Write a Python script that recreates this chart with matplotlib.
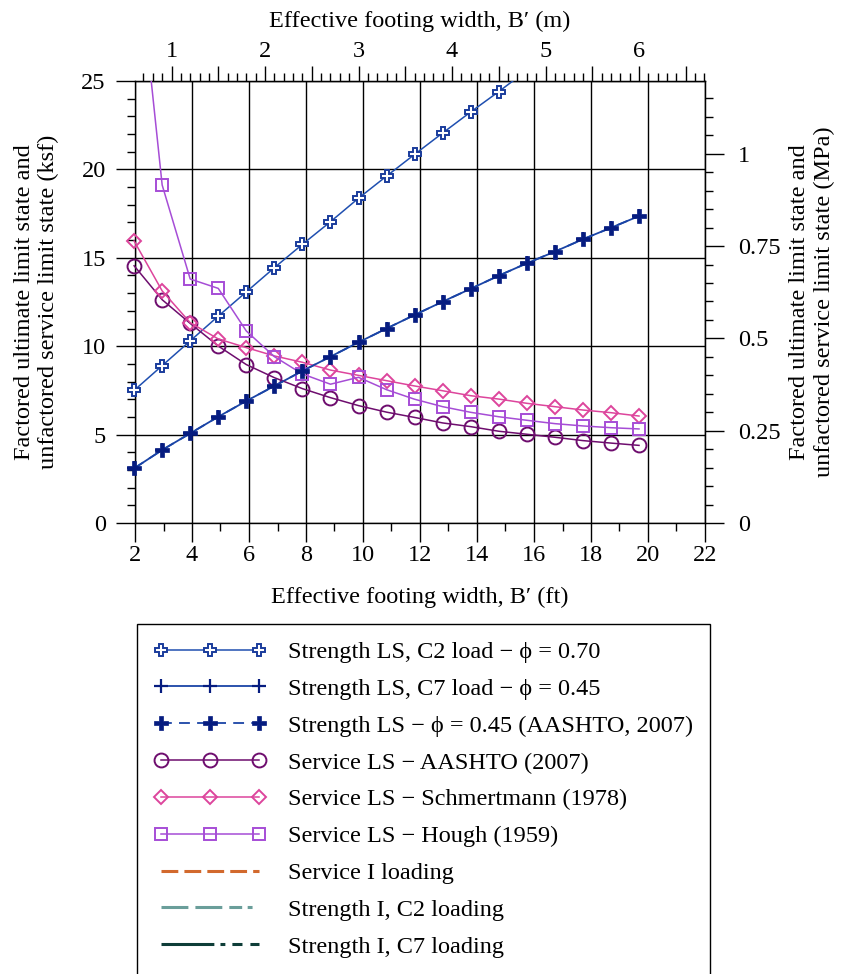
import matplotlib
matplotlib.use("Agg")
import matplotlib.pyplot as plt
from matplotlib.lines import Line2D
from matplotlib.patches import Rectangle
from matplotlib.ticker import MultipleLocator, FuncFormatter
import numpy as np

plt.rcParams['font.family'] = ['Liberation Serif', 'DejaVu Serif']
plt.rcParams['mathtext.fontset'] = 'stix'

FT_PER_M = 3.2808
MPA_PER_KSF = 0.04788

# Effective footing width (m), converted to ft for plotting
B_m = [0.6, 0.9, 1.2, 1.5, 1.8, 2.1, 2.4, 2.7, 3.0, 3.3, 3.6, 3.9, 4.2, 4.5, 4.8, 5.1, 5.4, 5.7, 6.0]

strength_c2 = [7.5, 8.9, 10.3, 11.7, 13.07, 14.44, 15.76, 17.04, 18.37, 19.62, 20.85, 22.06, 23.25, 24.4, 25.6]
strength_c7 = [3.09, 4.13, 5.07, 6.01, 6.9, 7.75, 8.6, 9.41, 10.22, 11.0, 11.77, 12.52, 13.25, 13.99, 14.69,
               15.35, 16.05, 16.7, 17.36]
strength_aashto = [3.09, 4.13, 5.07, 6.01, 6.9, 7.75, 8.6, 9.41, 10.22, 11.0, 11.77, 12.52, 13.25, 13.99, 14.69,
                   15.35, 16.05, 16.7, 17.36]
service_aashto = [14.55, 12.63, 11.29, 10.01, 8.96, 8.22, 7.6, 7.09, 6.64, 6.27, 5.97, 5.66, 5.45, 5.19, 5.02,
                  4.85, 4.66, 4.52, 4.39]
service_schmertmann = [15.95, 13.13, 11.33, 10.41, 9.92, 9.45, 9.09, 8.65, 8.35, 8.05, 7.75, 7.48, 7.2, 7.01,
                       6.77, 6.58, 6.39, 6.24, 6.05]
service_hough = [34.2, 19.12, 13.8, 13.27, 10.86, 9.41, 8.43, 7.85, 8.24, 7.54, 7.0, 6.58, 6.26, 6.01, 5.81,
                 5.62, 5.49, 5.39, 5.32]

labels = [
    "Strength LS, C2 load \u2212 \u03d5 = 0.70",
    "Strength LS, C7 load \u2212 \u03d5 = 0.45",
    "Strength LS \u2212 \u03d5 = 0.45 (AASHTO, 2007)",
    "Service LS \u2212 AASHTO (2007)",
    "Service LS \u2212 Schmertmann (1978)",
    "Service LS \u2212 Hough (1959)",
    "Service I loading",
    "Strength I, C2 loading",
    "Strength I, C7 loading",
]

B_ft = [b * FT_PER_M for b in B_m]

FS = 17.5
fig = plt.figure(figsize=(8.45, 9.74), dpi=100)
ax = fig.add_axes([135 / 845, 1 - 523 / 974, 570 / 845, 442 / 974])

c2_col = '#1f4fb0'
c2_edge = '#1a3c9c'
c7_line = '#1a44a6'
c7_mk = '#061c80'
aas_col = '#6e0d6e'
sch_col = '#dd459c'
hou_col = '#a64dd6'

h1, = ax.plot(B_ft[:len(strength_c2)], strength_c2, color=c2_col, lw=1.1, marker='P', ms=9,
              mfc='white', mec=c2_edge, mew=1.4, zorder=5, label=labels[0])
h2, = ax.plot(B_ft, strength_c7, color=c7_line, lw=1.3, marker='+', ms=10, mec=c7_mk, mew=1.6,
              zorder=5, label=labels[1])
h3, = ax.plot(B_ft, strength_aashto, color=c7_line, lw=1.3, ls=(0, (6, 4)), marker='P', ms=10,
              mfc=c7_mk, mec=c7_mk, mew=0.5, zorder=6, label=labels[2])
h4, = ax.plot(B_ft, service_aashto, color=aas_col, lw=1.1, marker='o', ms=10, mfc='none', mec=aas_col,
              mew=1.4, zorder=5, label=labels[3])
h5, = ax.plot(B_ft, service_schmertmann, color=sch_col, lw=1.1, marker='D', ms=7, mfc='none', mec=sch_col,
              mew=1.4, zorder=5, label=labels[4])
h6, = ax.plot(B_ft, service_hough, color=hou_col, lw=1.1, marker='s', ms=9, mfc='none', mec=hou_col,
              mew=1.4, zorder=5, label=labels[5])

clip_rect = Rectangle((-0.05, -0.05), 1.1, 1.05, transform=ax.transAxes, fill=False, visible=False)
ax.add_patch(clip_rect)
for h in (h1, h2, h3, h4, h5, h6):
    h.set_clip_path(clip_rect)

ax.set_xlim(2, 22)
ax.set_ylim(0, 25)
ax.xaxis.set_major_locator(MultipleLocator(2))
ax.xaxis.set_minor_locator(MultipleLocator(1))
ax.yaxis.set_major_locator(MultipleLocator(5))
ax.yaxis.set_minor_locator(MultipleLocator(1))
ax.grid(True, which='major', color='black', lw=1.0)
ax.set_axisbelow(True)
for s in ax.spines.values():
    s.set_linewidth(1.0)
ax.tick_params(which='major', direction='out', length=14, width=1, labelsize=FS)
ax.tick_params(which='minor', direction='out', length=6, width=1)
ax.tick_params(axis='x', which='major', pad=2)
ax.tick_params(axis='y', which='major', pad=7)
ax.tick_params(axis='y', which='both', right=False)
ax.tick_params(axis='x', which='both', top=False)
ax.set_xlabel("Effective footing width, B\u2032 (ft)", fontsize=FS, labelpad=15)
ax.set_ylabel("Factored ultimate limit state and\nunfactored service limit state (ksf)", fontsize=FS,
              labelpad=16)

# Top axis in metres
top = ax.secondary_xaxis('top', functions=(lambda x: np.asarray(x) / FT_PER_M,
                                           lambda m: np.asarray(m) * FT_PER_M))
top.xaxis.set_major_locator(MultipleLocator(0.5))
top.xaxis.set_minor_locator(MultipleLocator(0.1))
top.xaxis.set_major_formatter(FuncFormatter(lambda v, p: f"{int(round(v))}" if abs(v - round(v)) < 1e-6 else ""))
top.tick_params(which='major', direction='out', length=11, width=1, labelsize=FS, pad=3)
top.tick_params(which='minor', direction='out', length=6, width=1)
top.set_xlabel("Effective footing width, B\u2032 (m)", fontsize=FS, labelpad=10)

# Right axis in MPa
right = ax.secondary_yaxis('right', functions=(lambda k: np.asarray(k) * MPA_PER_KSF,
                                               lambda m: np.asarray(m) / MPA_PER_KSF))
right.yaxis.set_major_locator(MultipleLocator(0.25))
right.yaxis.set_minor_locator(MultipleLocator(0.05))
right.yaxis.set_major_formatter(FuncFormatter(lambda v, p: f"{v:g}"))
right.tick_params(which='major', direction='out', length=14, width=1, labelsize=FS, pad=10)
right.tick_params(which='minor', direction='out', length=6, width=1)
right.set_ylabel("Factored ultimate limit state and\nunfactored service limit state (MPa)", fontsize=FS,
                 labelpad=6)

# Legend-only entries
h7 = Line2D([], [], color='#d2692d', lw=2.2, ls=(0, (5.5, 2.0)))
h8 = Line2D([], [], color='#6a9e9a', lw=2.2,
            ls=(0, (8.8, 2.3, 8.8, 2.3, 4.2, 1.8, 1.6, 2.3, 1.0, 2.6, 1.6, 3.0)))
h9 = Line2D([], [], color='#0e3d38', lw=2.2, ls=(0, (17.3, 2.0, 1.6, 2.3, 3.3, 2.6, 7.5, 3.0)))

handles = [h1, h2, h3, h4, h5, h6, h7, h8, h9]
leg = fig.legend(handles, labels, loc='upper left', bbox_to_anchor=(137 / 845, 1 - 624 / 974),
                 fontsize=FS, numpoints=3, handlelength=4.6, handletextpad=0.9, labelspacing=0.61,
                 borderpad=0.7, borderaxespad=0, frameon=True, fancybox=False, edgecolor='black',
                 framealpha=1)
leg.get_frame().set_linewidth(1.0)

fig.savefig("out.png", dpi=100)
